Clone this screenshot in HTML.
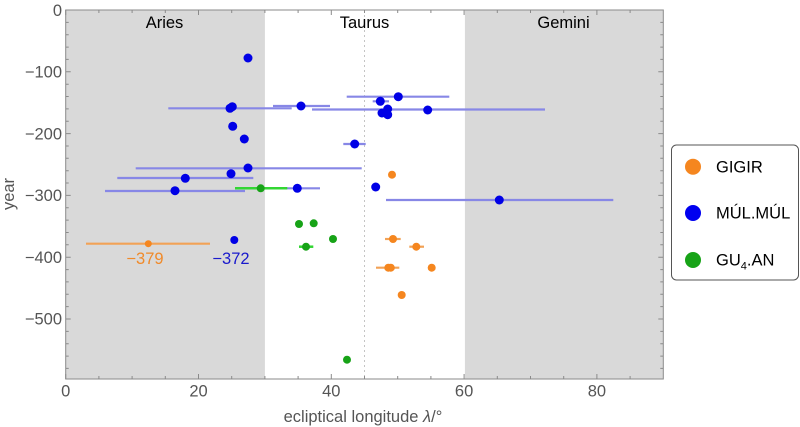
<!DOCTYPE html>
<html><head><meta charset="utf-8"><style>
html,body{margin:0;padding:0;background:#fff;}
svg{display:block;font-family:"Liberation Sans",Arial,sans-serif;}
</style></head><body>
<svg width="800" height="427" viewBox="0 0 800 427" xmlns="http://www.w3.org/2000/svg">
<rect x="0" y="0" width="800" height="427" fill="#fff"/>
<!-- shaded zones -->
<rect x="65.7" y="10" width="199.2" height="369" fill="#d9d9d9"/>
<rect x="464.9" y="10" width="198.4" height="369" fill="#d9d9d9"/>
<!-- dashed line at 45 -->
<line x1="364.5" y1="10" x2="364.5" y2="379" stroke="#c4c4c4" stroke-width="1" stroke-dasharray="2,3"/>
<!-- zone labels -->
<g font-size="16.5" fill="#000" text-anchor="middle">
<text x="164.5" y="28">Aries</text>
<text x="364.5" y="28">Taurus</text>
<text x="563.5" y="28">Gemini</text>
</g>
<!-- blue error bars -->
<g stroke="#8787e6" stroke-width="2.2" fill="none">
<line x1="168.3" y1="108.3" x2="291.7" y2="108.3"/>
<line x1="273" y1="106" x2="330" y2="106"/>
<line x1="312" y1="109.5" x2="545" y2="109.5"/>
<line x1="346.7" y1="96.7" x2="449.3" y2="96.7"/>
<line x1="372.7" y1="101.3" x2="389" y2="101.3"/>
<line x1="343.3" y1="144" x2="365.7" y2="144"/>
<line x1="135.7" y1="168.3" x2="361.7" y2="168.3"/>
<line x1="117.3" y1="178" x2="253.3" y2="178"/>
<line x1="105" y1="191" x2="245" y2="191"/>
<line x1="287" y1="188.3" x2="320" y2="188.3"/>
<line x1="386" y1="200" x2="613.3" y2="200"/>
</g>
<!-- green bars -->
<g stroke="#33d633" stroke-width="2.5">
<line x1="235" y1="188.3" x2="287.3" y2="188.3"/>
<line x1="299" y1="246.7" x2="313.3" y2="246.7"/>
</g>
<!-- orange bars -->
<g stroke="#f2a256" stroke-width="2.2">
<line x1="86" y1="243.7" x2="210" y2="243.7"/>
<line x1="385" y1="239" x2="400.7" y2="239"/>
<line x1="409.3" y1="246.7" x2="424" y2="246.7"/>
<line x1="376" y1="267.7" x2="399.3" y2="267.7"/>
</g>
<!-- blue dots -->
<g fill="#0000e6">
<circle cx="248" cy="58" r="4.5"/>
<circle cx="230" cy="108.3" r="4.5"/>
<circle cx="232.3" cy="106.7" r="4.5"/>
<circle cx="301" cy="106" r="4.5"/>
<circle cx="398.3" cy="96.7" r="4.5"/>
<circle cx="380.3" cy="101.3" r="4.5"/>
<circle cx="387.7" cy="109" r="4.5"/>
<circle cx="382" cy="113" r="4.5"/>
<circle cx="387.7" cy="114.7" r="4.5"/>
<circle cx="427.7" cy="110" r="4.5"/>
<circle cx="354.7" cy="144" r="4.5"/>
<circle cx="232.7" cy="126.3" r="4.5"/>
<circle cx="244.3" cy="139" r="4.5"/>
<circle cx="248" cy="168" r="4.5"/>
<circle cx="231" cy="173.7" r="4.5"/>
<circle cx="185.3" cy="178.3" r="4.5"/>
<circle cx="175" cy="190.7" r="4.5"/>
<circle cx="297.3" cy="188.3" r="4.5"/>
<circle cx="375.7" cy="187" r="4.5"/>
<circle cx="499.3" cy="200" r="4.5"/>
<circle cx="234.3" cy="240" r="4"/>
</g>
<!-- orange dots -->
<g fill="#f5861f">
<circle cx="392" cy="174.7" r="4"/>
<circle cx="393" cy="239" r="4"/>
<circle cx="416.3" cy="246.7" r="4"/>
<circle cx="388.3" cy="267.7" r="4"/>
<circle cx="390.8" cy="267.7" r="4"/>
<circle cx="431.7" cy="267.7" r="4"/>
<circle cx="401.7" cy="295" r="4"/>
<circle cx="148.3" cy="243.7" r="3.5"/>
</g>
<!-- green dots -->
<g fill="#17a317">
<circle cx="260.7" cy="188.3" r="4"/>
<circle cx="299" cy="224" r="4"/>
<circle cx="313.7" cy="223.3" r="4"/>
<circle cx="333" cy="239" r="4"/>
<circle cx="306" cy="246.7" r="4"/>
<circle cx="347" cy="359.7" r="4"/>
</g>
<!-- annotations -->
<text x="145" y="264" font-size="16.5" fill="#f08a2a" text-anchor="middle">−379</text>
<text x="231" y="264" font-size="16.5" fill="#1a1acc" text-anchor="middle">−372</text>
<!-- frame -->
<rect x="65.7" y="10" width="597.6" height="369" fill="none" stroke="#8a8a8a" stroke-width="1"/>
<!-- ticks -->
<g stroke="#8a8a8a" stroke-width="1">
<path d="M65.7 379v-5M198.5 379v-5M331.3 379v-5M464.1 379v-5M596.9 379v-5
M65.7 10v5M198.5 10v5M331.3 10v5M464.1 10v5M596.9 10v5"/>
<path d="M98.9 379v-3M132.1 379v-3M165.3 379v-3M231.7 379v-3M264.9 379v-3M298.1 379v-3M364.5 379v-3M397.7 379v-3M430.9 379v-3M497.3 379v-3M530.5 379v-3M563.7 379v-3M630.1 379v-3
M98.9 10v3M132.1 10v3M165.3 10v3M231.7 10v3M264.9 10v3M298.1 10v3M364.5 10v3M397.7 10v3M430.9 10v3M497.3 10v3M530.5 10v3M563.7 10v3M630.1 10v3"/>
<path d="M65.7 71.8h5M65.7 133.6h5M65.7 195.4h5M65.7 257.2h5M65.7 319h5
M663.3 71.8h-5M663.3 133.6h-5M663.3 195.4h-5M663.3 257.2h-5M663.3 319h-5"/>
<path d="M65.7 22.4h3M65.7 34.7h3M65.7 47.1h3M65.7 59.4h3M65.7 84.2h3M65.7 96.5h3M65.7 108.9h3M65.7 121.2h3M65.7 146h3M65.7 158.3h3M65.7 170.7h3M65.7 183h3M65.7 207.8h3M65.7 220.1h3M65.7 232.5h3M65.7 244.8h3M65.7 269.6h3M65.7 281.9h3M65.7 294.3h3M65.7 306.6h3M65.7 331.4h3M65.7 343.7h3M65.7 356.1h3M65.7 368.4h3
M663.3 22.4h-3M663.3 34.7h-3M663.3 47.1h-3M663.3 59.4h-3M663.3 84.2h-3M663.3 96.5h-3M663.3 108.9h-3M663.3 121.2h-3M663.3 146h-3M663.3 158.3h-3M663.3 170.7h-3M663.3 183h-3M663.3 207.8h-3M663.3 220.1h-3M663.3 232.5h-3M663.3 244.8h-3M663.3 269.6h-3M663.3 281.9h-3M663.3 294.3h-3M663.3 306.6h-3M663.3 331.4h-3M663.3 343.7h-3M663.3 356.1h-3M663.3 368.4h-3"/>
</g>
<!-- tick labels -->
<g font-size="16.5" fill="#555">
<g text-anchor="end">
<text x="62" y="16">0</text>
<text x="62" y="77.5">−100</text>
<text x="62" y="139.3">−200</text>
<text x="62" y="201.1">−300</text>
<text x="62" y="262.9">−400</text>
<text x="62" y="324.7">−500</text>
</g>
<g text-anchor="middle">
<text x="65.7" y="396.5">0</text>
<text x="198.5" y="396.5">20</text>
<text x="331.3" y="396.5">40</text>
<text x="464.1" y="396.5">60</text>
<text x="596.9" y="396.5">80</text>
</g>
<text x="363" y="422" text-anchor="middle">ecliptical longitude <tspan font-style="italic">λ</tspan>/°</text>
<text transform="translate(14,194) rotate(-90)" text-anchor="middle">year</text>
</g>
<!-- legend -->
<rect x="671.5" y="145" width="127" height="135" rx="5" ry="5" fill="#fff" stroke="#555" stroke-width="1"/>
<circle cx="693" cy="166.7" r="8" fill="#f5861f"/>
<circle cx="693" cy="213" r="8" fill="#0000f0"/>
<circle cx="693" cy="260" r="8" fill="#17a317"/>
<g font-size="16.5" fill="#000">
<text x="716" y="172.5">GIGIR</text>
<text x="716" y="218.5">MÚL.MÚL</text>
<text x="716" y="265.5">GU<tspan font-size="11" dy="4">4</tspan><tspan dy="-4">.AN</tspan></text>
</g>
</svg>
</body></html>
